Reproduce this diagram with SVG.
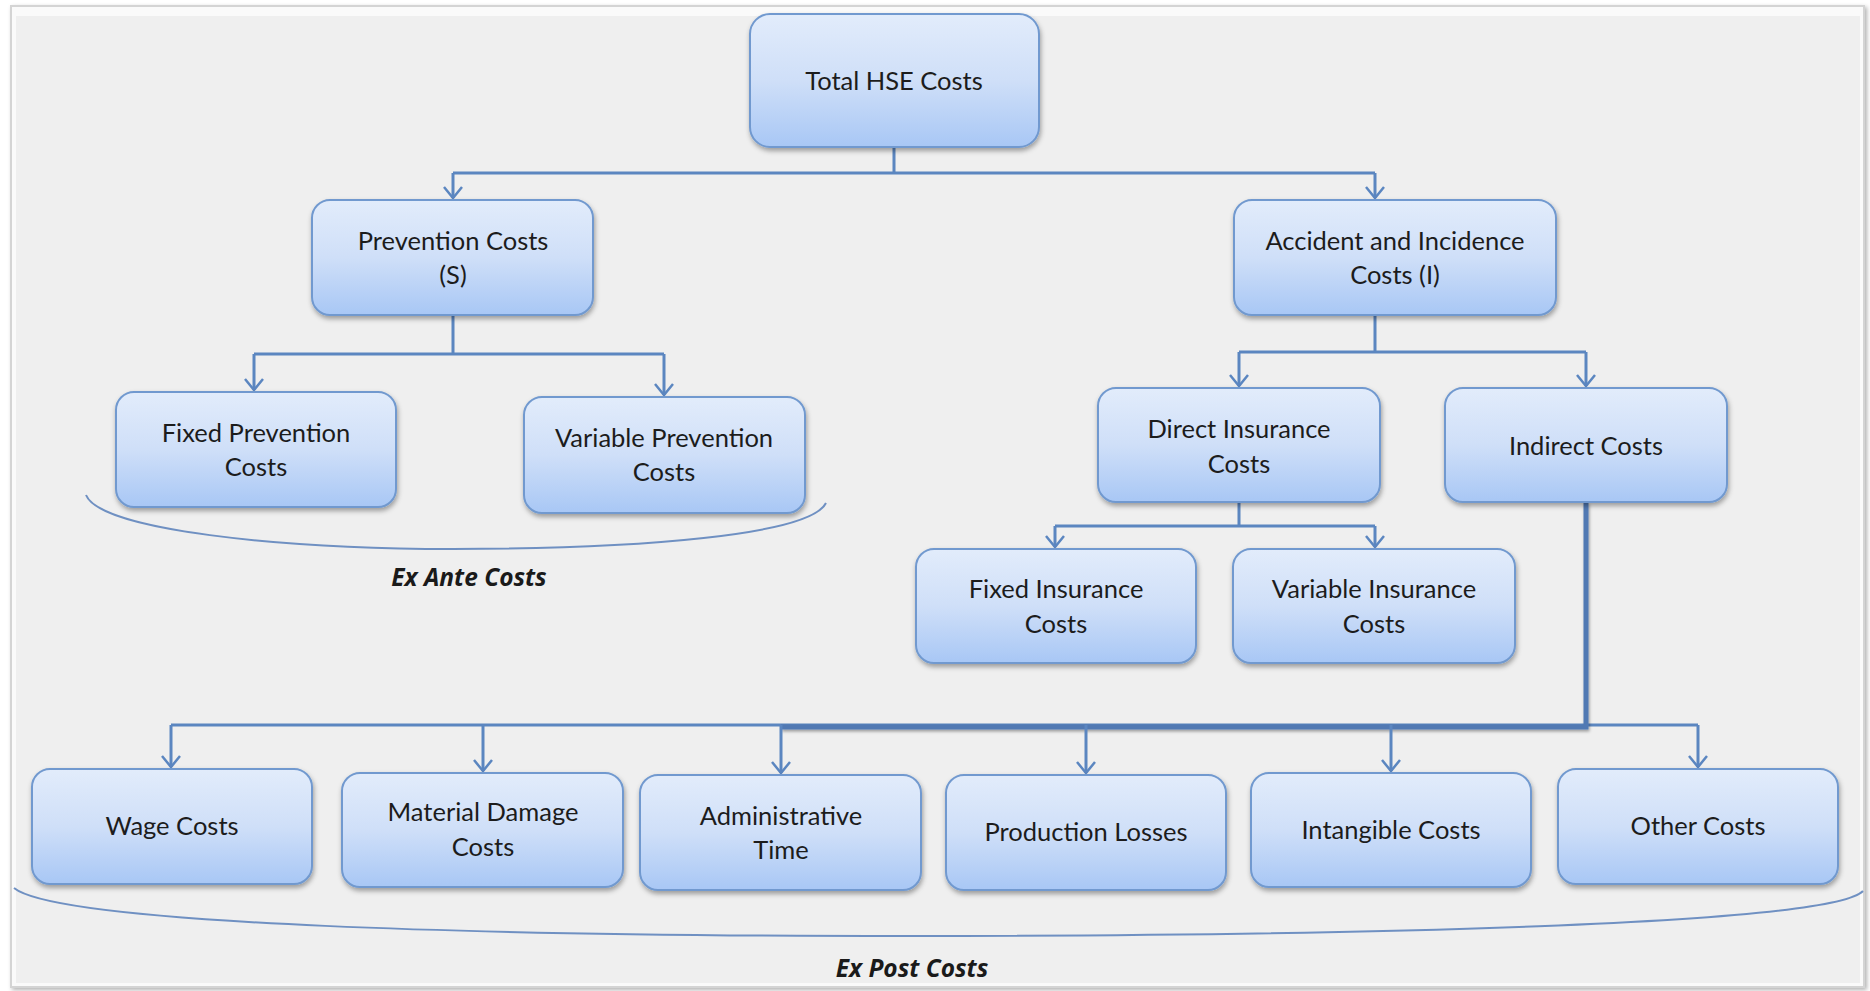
<svg xmlns="http://www.w3.org/2000/svg" width="1870" height="991" viewBox="0 0 1870 991">
<defs>
<linearGradient id="g" x1="0" y1="0" x2="0" y2="1">
<stop offset="0" stop-color="#e2ecfb"/>
<stop offset="0.5" stop-color="#cfdff8"/>
<stop offset="1" stop-color="#a8c7f5"/>
</linearGradient>
<filter id="sh" x="-10%" y="-10%" width="120%" height="130%">
<feDropShadow dx="1" dy="3" stdDeviation="2.5" flood-color="#000" flood-opacity="0.35"/>
</filter>
<filter id="lsh" x="-5%" y="-50%" width="110%" height="200%">
<feDropShadow dx="1" dy="2" stdDeviation="1.5" flood-color="#000" flood-opacity="0.35"/>
</filter>
<marker id="ar" markerWidth="24" markerHeight="24" viewBox="-12 -12 24 24" refX="0" refY="0" orient="auto" markerUnits="userSpaceOnUse">
<path d="M-11,-9 L0,0 L-11,9" fill="none" stroke="#5b86c0" stroke-width="2.5"/>
</marker>
<filter id="frameSh" x="-2%" y="-2%" width="104%" height="104%">
<feDropShadow dx="2" dy="2" stdDeviation="2" flood-color="#000" flood-opacity="0.3"/>
</filter>
</defs>
<style>
.box{fill:url(#g);stroke:#7199cf;stroke-width:2;filter:url(#sh)}
.t{font-family:Lato,"Open Sans","Liberation Sans",sans-serif;font-size:25.5px;fill:#1c1c1c;text-anchor:middle}
.lbl{font-family:"Open Sans","Liberation Sans",sans-serif;font-size:24.5px;font-weight:bold;font-style:italic;fill:#1a1a1a;text-anchor:middle}
.c{fill:none;stroke:#5b86c0;stroke-width:3}
.a{fill:none;stroke:#5b86c0;stroke-width:3;marker-end:url(#ar)}
.thick{fill:none;stroke:#5179b3;stroke-width:5;filter:url(#lsh)}
.brace{fill:none;stroke:#6f90c2;stroke-width:2}
</style>
<rect x="0" y="0" width="1870" height="991" fill="#ffffff"/>
<rect x="10" y="5" width="1855" height="983" fill="#d4d4d4" filter="url(#frameSh)"/>
<rect x="12" y="7" width="1851" height="979" fill="#fafafa"/>
<rect x="16" y="16" width="1844" height="967" fill="#efefef"/>

<g id="connectors">
<path class="c" d="M894,147 V173 M453,173 H1375"/>
<path class="a" d="M453,173 V198"/>
<path class="a" d="M1375,173 V198"/>
<path class="c" d="M453,315 V354 M254,354 H664"/>
<path class="a" d="M254,354 V390"/>
<path class="a" d="M664,354 V395"/>
<path class="c" d="M1375,315 V352 M1239,352 H1586"/>
<path class="a" d="M1239,352 V386"/>
<path class="a" d="M1586,352 V386"/>
<path class="c" d="M1239,502 V526 M1055,526 H1375"/>
<path class="a" d="M1055,526 V547"/>
<path class="a" d="M1375,526 V547"/>
<path class="c" d="M171,725 H1698"/>
<path class="thick" d="M1586,502 V727 H781"/>
<path class="a" d="M171,725 V767"/>
<path class="a" d="M483,725 V771"/>
<path class="a" d="M781,725 V773"/>
<path class="a" d="M1086,725 V773"/>
<path class="a" d="M1391,725 V771"/>
<path class="a" d="M1698,725 V767"/>
</g>

<g id="total"><rect class="box" x="750" y="14" width="289" height="133" rx="20"/><text class="t" x="894" y="90">Total HSE Costs</text></g>
<g id="prevention"><rect class="box" x="312" y="200" width="281" height="115" rx="18"/><text class="t" x="453" y="250">Prevention Costs</text><text class="t" x="453" y="284">(S)</text></g>
<g id="accident"><rect class="box" x="1234" y="200" width="322" height="115" rx="18"/><text class="t" x="1395" y="250">Accident and Incidence</text><text class="t" x="1395" y="284">Costs (I)</text></g>
<g id="fixedprev"><rect class="box" x="116" y="392" width="280" height="115" rx="18"/><text class="t" x="256" y="442">Fixed Prevention</text><text class="t" x="256" y="476">Costs</text></g>
<g id="varprev"><rect class="box" x="524" y="397" width="281" height="116" rx="18"/><text class="t" x="664" y="447">Variable Prevention</text><text class="t" x="664" y="481">Costs</text></g>
<g id="direct"><rect class="box" x="1098" y="388" width="282" height="114" rx="18"/><text class="t" x="1239" y="438">Direct Insurance</text><text class="t" x="1239" y="473">Costs</text></g>
<g id="indirect"><rect class="box" x="1445" y="388" width="282" height="114" rx="18"/><text class="t" x="1586" y="455">Indirect Costs</text></g>
<g id="fixedins"><rect class="box" x="916" y="549" width="280" height="114" rx="18"/><text class="t" x="1056" y="598">Fixed Insurance</text><text class="t" x="1056" y="633">Costs</text></g>
<g id="varins"><rect class="box" x="1233" y="549" width="282" height="114" rx="18"/><text class="t" x="1374" y="598">Variable Insurance</text><text class="t" x="1374" y="633">Costs</text></g>
<g id="wage"><rect class="box" x="32" y="769" width="280" height="115" rx="18"/><text class="t" x="172" y="835">Wage Costs</text></g>
<g id="material"><rect class="box" x="342" y="773" width="281" height="114" rx="18"/><text class="t" x="483" y="821">Material Damage</text><text class="t" x="483" y="856">Costs</text></g>
<g id="admin"><rect class="box" x="640" y="775" width="281" height="115" rx="18"/><text class="t" x="781" y="825">Administrative</text><text class="t" x="781" y="859">Time</text></g>
<g id="production"><rect class="box" x="946" y="775" width="280" height="115" rx="18"/><text class="t" x="1086" y="841">Production Losses</text></g>
<g id="intangible"><rect class="box" x="1251" y="773" width="280" height="114" rx="18"/><text class="t" x="1391" y="839">Intangible Costs</text></g>
<g id="other"><rect class="box" x="1558" y="769" width="280" height="115" rx="18"/><text class="t" x="1698" y="835">Other Costs</text></g>

<g id="exante">
<path class="brace" d="M86,495 C100,530 280,549 453,549 C640,549 810,535 826,503"/>
<text class="lbl" x="469" y="586">Ex Ante Costs</text>
</g>
<g id="expost">
<path class="brace" d="M14,888 C60,925 500,936 906,936 C1350,936 1830,925 1863,891"/>
<text class="lbl" x="912" y="977">Ex Post Costs</text>
</g>
</svg>
